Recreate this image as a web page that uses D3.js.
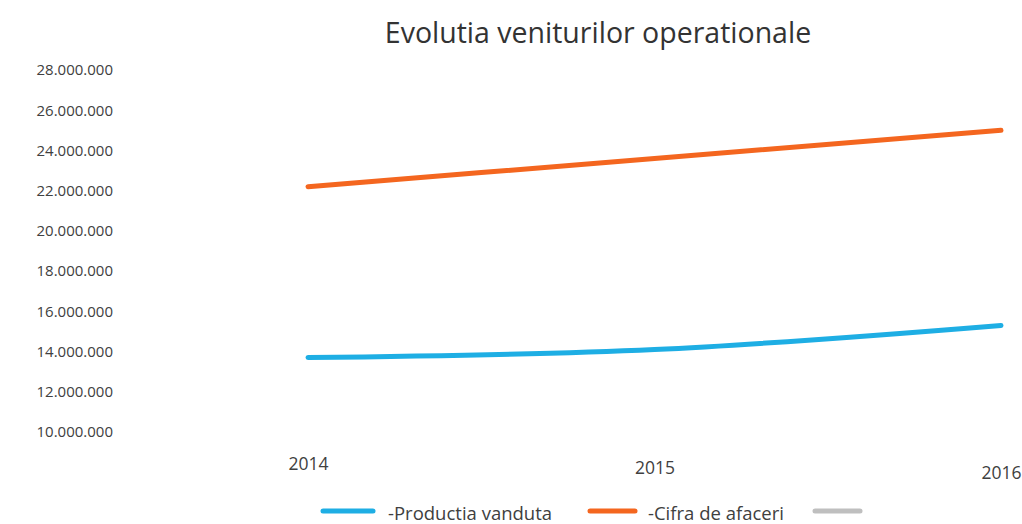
<!DOCTYPE html>
<html><head><meta charset="utf-8">
<script src="https://cdn.jsdelivr.net/npm/d3@7"></script>
<style>body{margin:0;background:#fff;}svg{display:block;}</style>
</head><body>
<svg id="c" width="1022" height="524"></svg>
<script>
const years = ["2014", "2015", "2016"];
const productiaVanduta = [13700000, 14100000, 15300000];
const cifraDeAfaceri = [22200000, 23600000, 25000000];
const yTicks = [10000000, 12000000, 14000000, 16000000, 18000000, 20000000, 22000000, 24000000, 26000000, 28000000];
const seriesNames = ["-Productia vanduta", "-Cifra de afaceri", ""];

const svg = d3.select("#c");
const font = "'Open Sans', sans-serif";
const x = d3.scalePoint().domain(years).range([308, 1001]);
const y = d3.scaleLinear().domain([10000000, 28000000]).range([432, 70]);
const fmt = v => d3.format(",")(v).replace(/,/g, ".");

svg.append("text").attr("x", 598).attr("y", 43).attr("text-anchor", "middle")
  .attr("font-family", font).attr("font-size", 28.5).attr("fill", "#333").text("Evolutia veniturilor operationale");

const yAxis = svg.append("g").attr("transform", "translate(113,0)")
  .call(d3.axisLeft(y).tickValues(yTicks).tickFormat(fmt).tickSize(0).tickPadding(0));
yAxis.select(".domain").remove();
yAxis.selectAll("text").attr("font-family", font).attr("font-size", 15).attr("fill", "#404040");

const xAxis = svg.append("g").attr("transform", "translate(0,458)")
  .call(d3.axisBottom(x).tickSize(0).tickPadding(0));
xAxis.select(".domain").remove();
xAxis.selectAll("text").attr("font-family", font).attr("font-size", 17.5).attr("fill", "#404040")
  .attr("dy", (d,i) => [0.71, 0.9, 1.2][i] + "em");

const line = d3.line().x((d,i) => x(years[i])).y(d => y(d)).curve(d3.curveMonotoneX);
const colors = ["#1eaee4", "#f4661f", "#bfbfbf"];
[productiaVanduta, cifraDeAfaceri].forEach((s, k) => {
  svg.append("path").datum(s).attr("d", line).attr("fill", "none")
    .attr("stroke", colors[k]).attr("stroke-width", 5).attr("stroke-linecap", "round");
});

const legX = [323, 590, 815];
const legW = [50, 45, 45];
const legT = [388, 648, 0];
seriesNames.forEach((n, i) => {
  svg.append("line").attr("x1", legX[i]).attr("x2", legX[i] + legW[i]).attr("y1", 511).attr("y2", 511)
    .attr("stroke", colors[i]).attr("stroke-width", 5).attr("stroke-linecap", "round");
  if (n) svg.append("text").attr("x", legT[i]).attr("y", 520)
    .attr("font-family", font).attr("font-size", 18.5).attr("fill", "#404040").text(n);
});
</script>
</body></html>
